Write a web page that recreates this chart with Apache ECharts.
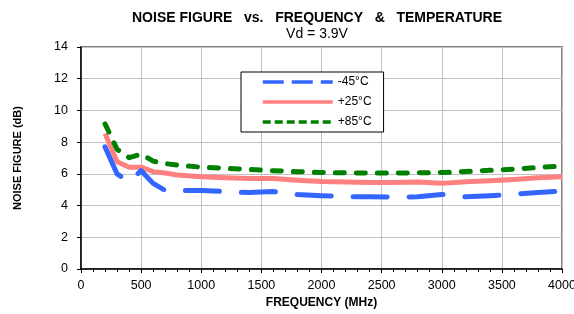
<!DOCTYPE html>
<html>
<head>
<meta charset="utf-8">
<script src="https://cdn.jsdelivr.net/npm/echarts@6/dist/echarts.min.js"></script>
<style>
  html, body { margin: 0; padding: 0; background: #fff; }
  #chart { width: 574px; height: 314px; }
</style>
</head>
<body>
<div id="chart"></div>
<script>
// frequency points (MHz)
const freqs = [200, 300, 400, 500, 600, 700, 800, 1000, 1200, 1400, 1600, 1800, 2000,
  2200, 2400, 2600, 2800, 3000, 3200, 3400, 3600, 3800, 4000];
// noise figure (dB) per temperature
const nfM45 = [7.7, 6.0, 5.5, 6.2, 5.4, 4.95, 4.95, 4.95, 4.88, 4.82, 4.88, 4.7, 4.62,
  4.56, 4.55, 4.53, 4.55, 4.7, 4.55, 4.62, 4.72, 4.82, 4.92];
const nfP25 = [8.55, 6.77, 6.42, 6.42, 6.14, 6.05, 5.93, 5.82, 5.75, 5.7, 5.7, 5.6, 5.52,
  5.48, 5.45, 5.45, 5.48, 5.4, 5.5, 5.57, 5.65, 5.75, 5.82];
const nfP85 = [9.15, 7.55, 7.02, 7.25, 6.8, 6.65, 6.55, 6.42, 6.35, 6.28, 6.2, 6.14, 6.08,
  6.07, 6.05, 6.05, 6.07, 6.08, 6.15, 6.22, 6.3, 6.4, 6.5];
const seriesNames = ['-45°C', '+25°C', '+85°C'];

const pairs = arr => freqs.map((f, i) => [f, arr[i]]);
const font = 'Liberation Sans, Arial, sans-serif';

const myChart = echarts.init(document.getElementById('chart'), null, { renderer: 'canvas' });
const option = {
  backgroundColor: '#fff',
  animation: false,
  title: {
    text: 'NOISE FIGURE   vs.   FREQUENCY   &   TEMPERATURE',
    subtext: 'Vd = 3.9V',
    left: 312, top: 6, textAlign: 'center', itemGap: 2,
    textStyle: { fontFamily: font, fontSize: 14, fontWeight: 'bold', color: '#000' },
    subtextStyle: { fontFamily: font, fontSize: 14, color: '#000' }
  },
  legend: {
    left: 241, top: 72, width: 139, orient: 'vertical',
    itemWidth: 70, itemHeight: 12, itemGap: 8,
    padding: [4, 12, 4, 20],
    borderColor: '#000', borderWidth: 1, backgroundColor: '#fff',
    itemStyle: { opacity: 0 },
    textStyle: { fontFamily: font, fontSize: 12, color: '#000' },
    data: [
      { name: seriesNames[0], lineStyle: { width: 3.5, type: [21, 8], cap: 'butt' } },
      { name: seriesNames[1], lineStyle: { width: 3.5 } },
      { name: seriesNames[2], lineStyle: { width: 3.5, type: [8, 4], cap: 'butt' } }
    ]
  },
  grid: {
    left: 81, right: 12, top: 47, bottom: 45,
    outerBoundsMode: 'none',
    show: true, borderColor: '#808080', borderWidth: 2
  },
  xAxis: {
    type: 'value', min: 0, max: 4000, interval: 500,
    name: 'FREQUENCY (MHz)', nameLocation: 'middle', nameGap: 28,
    nameTextStyle: { fontFamily: font, fontSize: 12, fontWeight: 'bold', color: '#000' },
    axisLine: { show: true, onZero: false, lineStyle: { color: '#000', width: 1.5 } },
    axisTick: { show: true, length: 4, lineStyle: { color: '#000' } },
    minorTick: { show: true, splitNumber: 5, length: 3, lineStyle: { color: '#000' } },
    axisLabel: { fontFamily: font, fontSize: 12.5, color: '#000', margin: 10, formatter: v => String(v) },
    splitLine: { show: true, lineStyle: { color: '#c0c0c0', width: 1 } }
  },
  yAxis: {
    type: 'value', min: 0, max: 14, interval: 2,
    name: 'NOISE FIGURE (dB)', nameLocation: 'middle', nameGap: 58,
    nameTextStyle: { fontFamily: font, fontSize: 11, fontWeight: 'bold', color: '#000' },
    axisLine: { show: true, lineStyle: { color: '#000', width: 1.5 } },
    axisTick: { show: true, length: 4, lineStyle: { color: '#000' } },
    axisLabel: { fontFamily: font, fontSize: 12.5, color: '#000', margin: 13 },
    splitLine: { show: true, lineStyle: { color: '#c0c0c0', width: 1 } }
  },
  series: [
    {
      name: seriesNames[0], type: 'line', symbol: 'none',
      data: pairs(nfM45), z: 3,
      itemStyle: { color: '#3366ff' },
      lineStyle: { color: '#3366ff', width: 5, type: [34, 22], cap: 'round', join: 'round' }
    },
    {
      name: seriesNames[1], type: 'line', symbol: 'none',
      data: pairs(nfP25), z: 2,
      itemStyle: { color: '#ff8080' },
      lineStyle: { color: '#ff8080', width: 5, join: 'round' }
    },
    {
      name: seriesNames[2], type: 'line', symbol: 'none',
      data: pairs(nfP85), z: 4,
      itemStyle: { color: '#008000' },
      lineStyle: { color: '#008000', width: 5, type: [9, 12], cap: 'round', join: 'round' }
    }
  ]
};
myChart.setOption(option);
</script>
</body>
</html>
